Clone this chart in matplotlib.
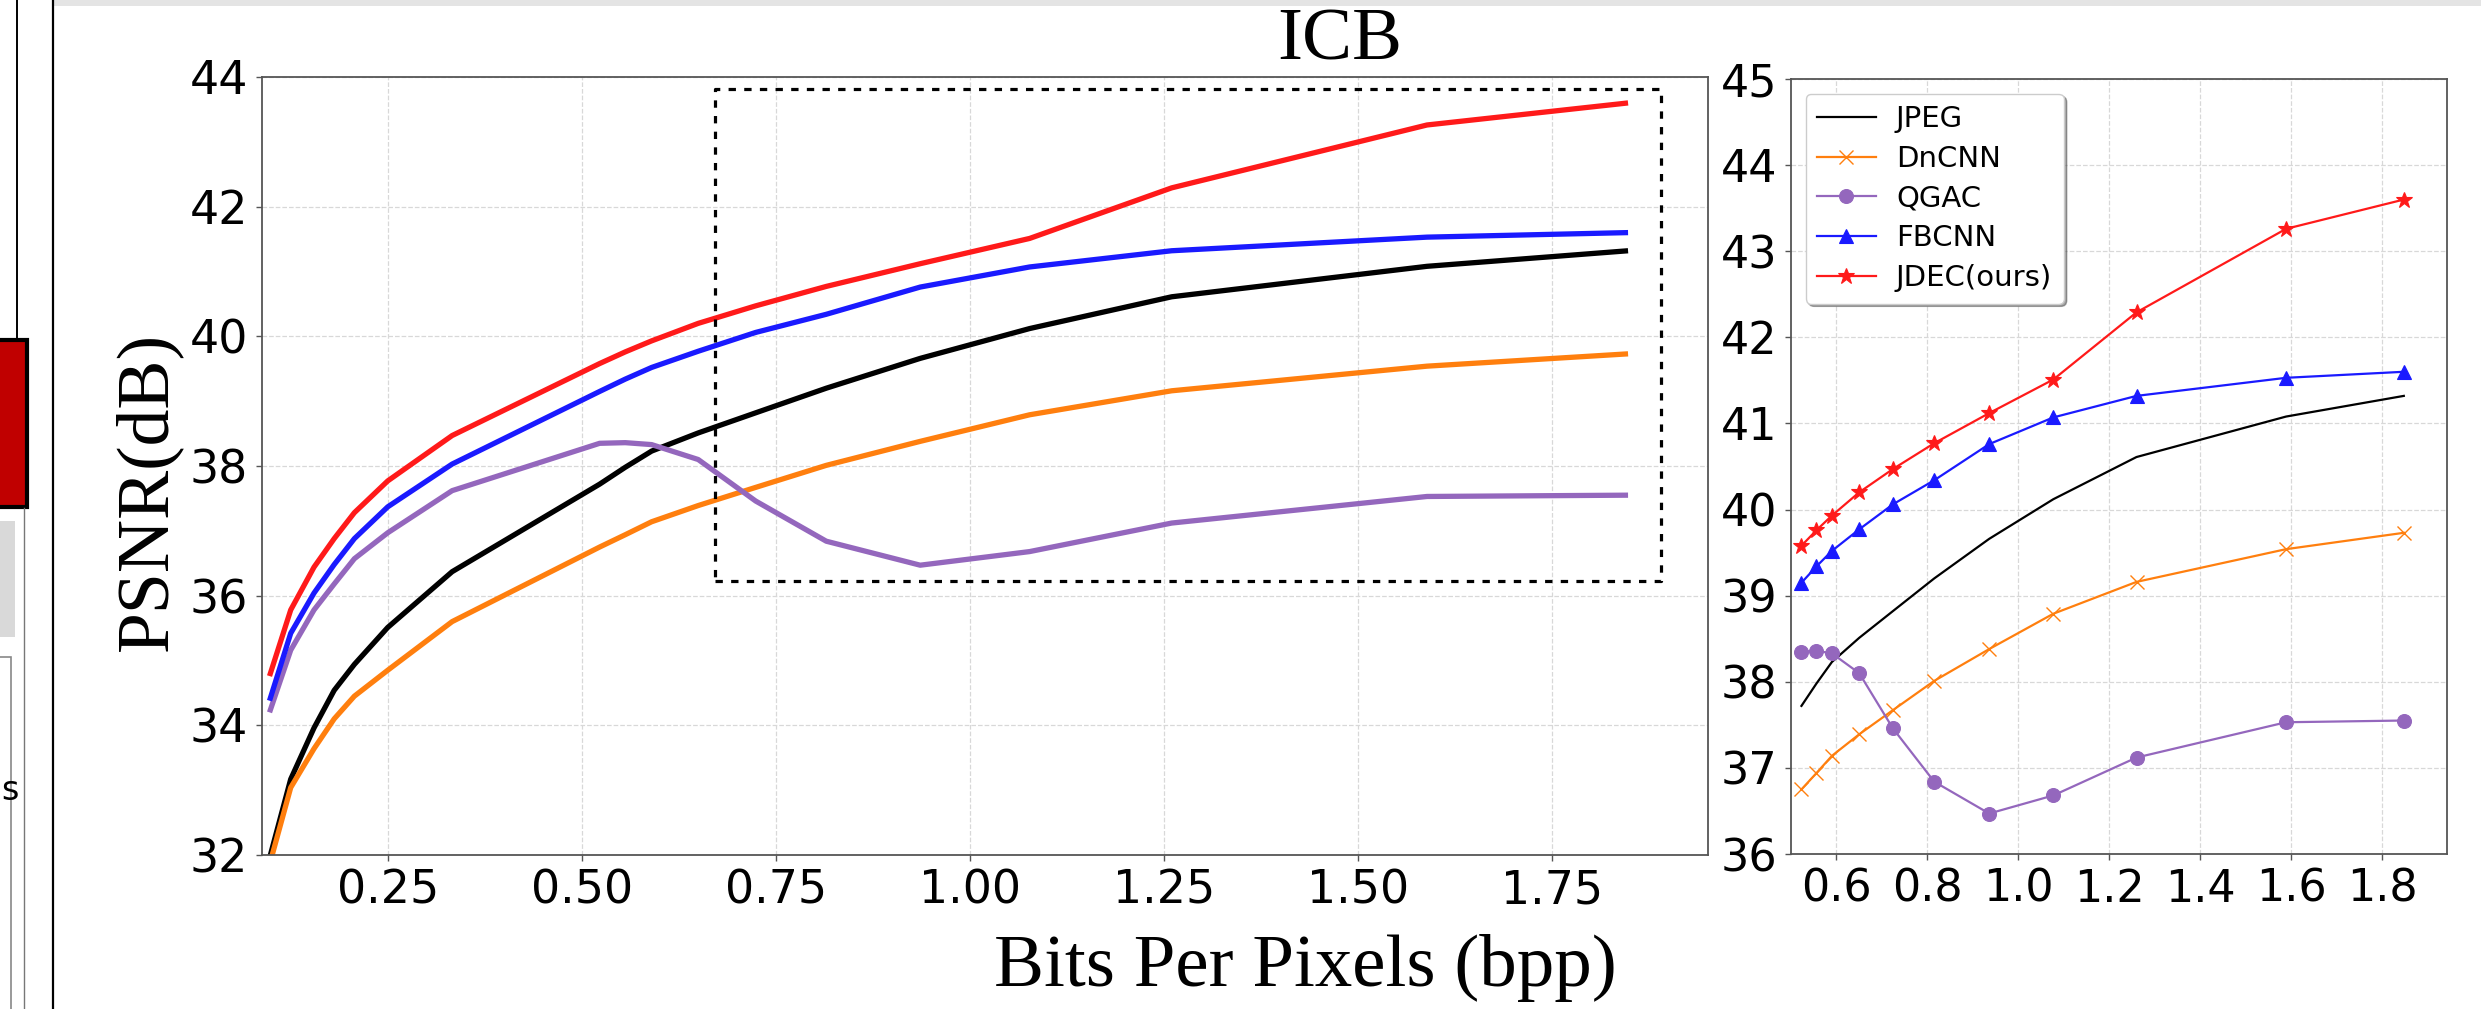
import matplotlib
matplotlib.use("Agg")
import matplotlib.pyplot as plt
from matplotlib.patches import Rectangle
from matplotlib.lines import Line2D

# ---------------- data ----------------
bpp = [0.0977, 0.125, 0.155, 0.181, 0.207, 0.25, 0.333, 0.523, 0.556, 0.590,
       0.650, 0.724, 0.815, 0.936, 1.077, 1.260, 1.589, 1.848]
jpeg = [31.95, 33.17, 33.96, 34.54, 34.94, 35.51, 36.37, 37.72, 37.98, 38.23,
        38.51, 38.82, 39.20, 39.66, 40.12, 40.61, 41.08, 41.32]
dncnn = [31.85, 33.04, 33.64, 34.10, 34.45, 34.85, 35.60, 36.75, 36.94, 37.14,
         37.39, 37.67, 38.01, 38.38, 38.79, 39.16, 39.54, 39.73]
qgac = [34.20, 35.16, 35.78, 36.18, 36.57, 36.97, 37.62, 38.35, 38.36, 38.33,
        38.10, 37.46, 36.84, 36.47, 36.68, 37.12, 37.53, 37.55]
fbcnn = [34.38, 35.42, 36.04, 36.48, 36.88, 37.37, 38.03, 39.15, 39.34, 39.52,
         39.77, 40.06, 40.34, 40.76, 41.07, 41.32, 41.53, 41.60]
jdec = [34.76, 35.78, 36.44, 36.88, 37.28, 37.77, 38.47, 39.58, 39.76, 39.93,
        40.20, 40.47, 40.77, 41.12, 41.51, 42.29, 43.26, 43.60]

labels = ["JPEG", "DnCNN", "QGAC", "FBCNN", "JDEC(ours)"]
series = [jpeg, dncnn, qgac, fbcnn, jdec]
colors = ["black", "#ff7f0e", "#9467bd", "#1a1aff", "#ff1a1a"]
markers = [None, "x", "o", "^", "*"]
msizes = [0, 10, 10, 10, 12]

left_xticks = [0.25, 0.50, 0.75, 1.00, 1.25, 1.50, 1.75]
left_yticks = [32, 34, 36, 38, 40, 42, 44]
right_xticks = [0.6, 0.8, 1.0, 1.2, 1.4, 1.6, 1.8]
right_yticks = [36, 37, 38, 39, 40, 41, 42, 43, 44, 45]
zoom_box = (0.671, 36.22, 1.891, 43.81)   # x0, y0, x1, y1
zoom_start = 7                               # first index shown in the zoom panel

title = "ICB"
xlabel = "Bits Per Pixels (bpp)"
ylabel = "PSNR(dB)"

# ---------------- figure ----------------
W, H = 2481, 1009
fig = plt.figure(figsize=(W / 100, H / 100), dpi=100)
fig.patch.set_facecolor("white")

def fx(px):
    return px / W

def fy(py):
    return 1 - py / H

axL = fig.add_axes([fx(262), fy(855), fx(1708 - 262), (855 - 77) / H])
axR = fig.add_axes([fx(1791), fy(854), fx(2447 - 1791), (854 - 79) / H])

spine_col = "#555555"
for ax in (axL, axR):
    for s in ax.spines.values():
        s.set_color(spine_col)
        s.set_linewidth(1.3)
    ax.grid(True, color="#d8d8d8", linestyle="--", linewidth=0.9)
    ax.set_axisbelow(True)
    ax.tick_params(direction="out", length=4, width=1.0, color=spine_col, pad=6)

# left panel: thick lines
for ys, c in zip(series, colors):
    axL.plot(bpp, ys, color=c, linewidth=3.8, solid_capstyle="butt")
axL.set_xlim(0.088, 1.951)
axL.set_ylim(32, 44)
axL.set_xticks(left_xticks)
axL.set_xticklabels([f"{v:.2f}" for v in left_xticks])
axL.set_yticks(left_yticks)
axL.tick_params(labelsize=33)

x0, y0, x1, y1 = zoom_box
axL.plot([x0, x1, x1, x0, x0], [y0, y0, y1, y1, y0], color="black",
         linewidth=2.3, linestyle=(0, (2.3, 2.6)))

# right panel: zoom with markers
for ys, c, m, ms, lab in zip(series, colors, markers, msizes, labels):
    axR.plot(bpp[zoom_start:], ys[zoom_start:], color=c, linewidth=1.6,
             marker=m, markersize=ms, markeredgewidth=1.0 if m == "x" else 0.8,
             label=lab)
axR.set_xlim(0.50, 1.943)
axR.set_ylim(36, 45)
axR.set_xticks(right_xticks)
axR.set_xticklabels([f"{v:.1f}" for v in right_xticks])
axR.set_yticks(right_yticks)
axR.tick_params(labelsize=32)
axR.legend(loc="upper left", fontsize=21, shadow=True, fancybox=True,
           framealpha=1.0, edgecolor="#cccccc", handlelength=2.0,
           handletextpad=0.7, borderpad=0.4, labelspacing=0.4,
           borderaxespad=0.5)

# texts
fig.text(fx(1340), fy(60), title, family="Liberation Serif", fontsize=54,
         ha="center", va="baseline")
fig.text(fx(1305), fy(986), xlabel, family="Liberation Serif", fontsize=54,
         ha="center", va="baseline")
fig.text(fx(148), fy(491), ylabel, family="Liberation Serif", fontsize=53,
         rotation=90, ha="center", va="center")

# screenshot surroundings on the left edge
def frect(xa, ya, xb, yb, **kw):
    r = Rectangle((fx(xa), fy(yb)), fx(xb - xa), (yb - ya) / H,
                  transform=fig.transFigure, **kw)
    fig.add_artist(r)

frect(53, 0, W, 6, facecolor="#e4e4e4", edgecolor="none")
fig.add_artist(Line2D([fx(53), fx(53)], [0, 1], transform=fig.transFigure,
                      color="black", linewidth=1.6))
fig.add_artist(Line2D([fx(17), fx(17)], [fy(0), fy(340)], transform=fig.transFigure,
                      color="black", linewidth=1.4))
frect(-10, 340, 27, 507, facecolor="#c00000", edgecolor="black", linewidth=3)
frect(-10, 521, 15, 637, facecolor="#d9d9d9", edgecolor="none")
frect(-10, 657, 11, 1020, facecolor="none", edgecolor="#888888", linewidth=1.2)
fig.add_artist(Line2D([fx(24), fx(24)], [fy(508), 0], transform=fig.transFigure,
                      color="#777777", linewidth=1.0))
fig.text(fx(1), fy(800), "s", fontsize=24, ha="left", va="baseline")

fig.savefig("out.png", dpi=100)
